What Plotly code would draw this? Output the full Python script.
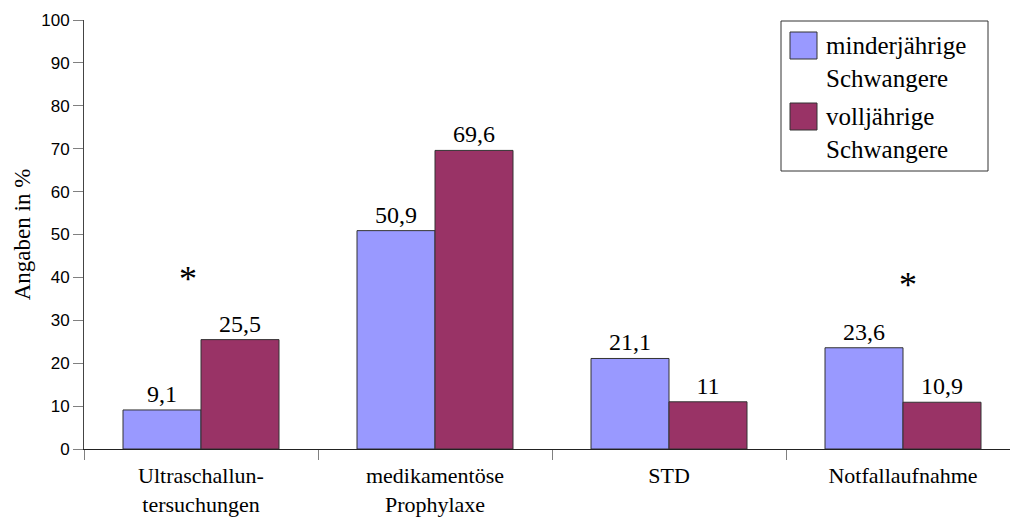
import plotly.graph_objects as go

# Categories (two-line tick labels) and the two groups of pregnant women
categories = ["Ultraschallun-<br>tersuchungen", "medikamentöse<br>Prophylaxe", "STD", "Notfallaufnahme"]
series_names = ["minderjährige<br>Schwangere", "volljährige<br>Schwangere"]
minderjaehrige = [9.1, 50.9, 21.1, 23.6]
volljaehrige = [25.5, 69.6, 11.0, 10.9]
y_ticks = [0, 10, 20, 30, 40, 50, 60, 70, 80, 90, 100]
# significance markers: category index and height in %
sig_categories = [0, 3]
sig_heights = [39.6, 38.2]

colors = ["#9999FF", "#993366"]
SERIF = "'Times New Roman', Times, 'Liberation Serif', 'DejaVu Serif', serif"
SANS = "Arial, 'Liberation Sans', sans-serif"


def fmt(v):
    return f"{v:g}".replace(".", ",")


fig = go.Figure()
for name, vals, col in zip(series_names, [minderjaehrige, volljaehrige], colors):
    fig.add_trace(go.Bar(
        x=categories, y=vals, name=name,
        marker=dict(color=col, line=dict(color="#333333", width=1)),
        text=[fmt(v) for v in vals], textposition="outside",
        textfont=dict(family=SERIF, size=24, color="black"),
        cliponaxis=False, showlegend=False,
    ))

for ci, h in zip(sig_categories, sig_heights):
    fig.add_annotation(x=ci, y=h, text="*", showarrow=False,
                       xshift=-13 if ci == 0 else 5,
                       font=dict(family=SERIF, size=36, color="black"),
                       xref="x", yref="y")

# Plot area in pixels: x 84..1010, y 20..449
W, H = 1010, 522
L, R, T, B = 84, 0, 20, 73
pw, ph = W - L - R, H - T - B


def px(x):
    return (x - L) / pw


def py(y):
    return 1 - (y - T) / ph


# legend box drawn by hand
fig.add_shape(type="rect", xref="paper", yref="paper",
              x0=px(781), x1=px(988), y0=py(171), y1=py(21),
              line=dict(color="#333333", width=1), fillcolor="white", layer="above")
for i, (name, col) in enumerate(zip(series_names, colors)):
    top = 32 + i * 71
    fig.add_shape(type="rect", xref="paper", yref="paper",
                  x0=px(790), x1=px(817), y0=py(top + 27), y1=py(top),
                  line=dict(color="#333333", width=1), fillcolor=col, layer="above")
    fig.add_annotation(xref="paper", yref="paper", x=px(824), y=py(top - 2),
                       xanchor="left", yanchor="top", align="left",
                       text=name, showarrow=False,
                       font=dict(family=SERIF, size=25, color="black"))

fig.update_layout(
    width=W, height=H,
    margin=dict(l=L, r=R, t=T, b=B, pad=0),
    paper_bgcolor="white", plot_bgcolor="white",
    barmode="group", bargap=1 / 3, bargroupgap=0,
    showlegend=False,
    font=dict(family=SERIF),
)
fig.update_xaxes(
    range=[-0.5, -0.5 + pw / 234], tickson="boundaries", automargin=False,
    ticks="outside", ticklen=10, tickcolor="#808080", tickwidth=1,
    showline=True, linecolor="#222222", linewidth=1,
    showgrid=False, zeroline=False, ticklabelstandoff=7,
    tickfont=dict(family=SERIF, size=22, color="black"),
)
fig.update_yaxes(
    range=[0, 100], tickvals=y_ticks, automargin=False,
    ticks="outside", ticklen=10, tickcolor="#808080", tickwidth=1,
    showline=True, linecolor="#444444", linewidth=1,
    showgrid=False, zeroline=False,
    tickfont=dict(family=SANS, size=17, color="black"),
    title=dict(text="Angaben in %", font=dict(family=SERIF, size=23, color="black"), standoff=4),
)

fig.write_html("out.html")
